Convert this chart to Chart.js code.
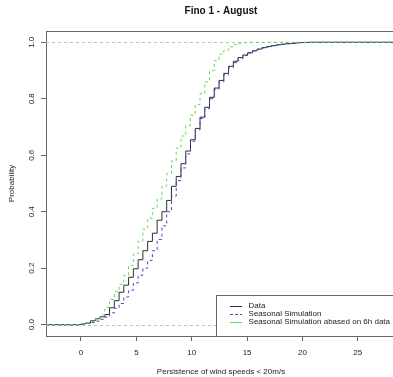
<!DOCTYPE html>
<html><head><meta charset="utf-8">
<script src="https://cdn.jsdelivr.net/npm/chart.js@4.4.0/dist/chart.umd.min.js"></script>
<style>html,body{margin:0;padding:0;background:#fff;overflow:hidden}#wrap{width:400px;height:377px}</style>
</head><body><div id="wrap"><canvas id="c" width="400" height="377"></canvas></div>
<script>
const TITLE = 'Fino 1 - August';
const X_LABEL = 'Persistence of wind speeds < 20m/s';
const Y_LABEL = 'Probability';
const X_TICKS = [0, 5, 10, 15, 20, 25];
const Y_TICKS = [0, 0.2, 0.4, 0.6, 0.8, 1.0];
const Y_TICK_LABELS = ['0.0', '0.2', '0.4', '0.6', '0.8', '1.0'];
const X_RANGE = [-3.16, 28.45];
const Y_RANGE = [-0.04, 1.04];
const PROB_BOUNDS = [0, 1];

const seriesNames = ['Data', 'Seasonal Simulation', 'Seasonal Simulation abased on 6h data'];

const persistence = [0,0.43,0.86,1.29,1.72,2.15,2.58,3.01,3.44,3.87,4.3,4.73,5.16,5.59,6.02,6.45,6.88,7.31,7.74,8.17,8.6,9.03,9.46,9.89,10.32,10.75,11.18,11.61,12.04,12.47,12.9,13.33,13.76,14.19,14.62,15.05,15.48,15.91,16.34,16.77,17.2,17.63,18.06,18.49,18.92,19.35,19.78,20.21,20.64,21.07,21.5];

const dataCDF = [0.003,0.006,0.014,0.021,0.028,0.036,0.06,0.085,0.115,0.14,0.168,0.198,0.23,0.262,0.295,0.324,0.37,0.40,0.44,0.49,0.525,0.57,0.615,0.655,0.695,0.735,0.77,0.805,0.838,0.865,0.89,0.915,0.933,0.946,0.955,0.963,0.97,0.976,0.981,0.985,0.988,0.991,0.993,0.995,0.996,0.998,0.999,0.9995,1,1,1];

const seasonalCDF = [0.002,0.004,0.008,0.013,0.019,0.027,0.042,0.058,0.075,0.098,0.122,0.148,0.175,0.2,0.228,0.262,0.302,0.35,0.40,0.455,0.51,0.555,0.605,0.65,0.69,0.73,0.765,0.8,0.833,0.86,0.885,0.91,0.928,0.942,0.953,0.962,0.969,0.975,0.98,0.984,0.988,0.991,0.993,0.995,0.997,0.998,0.999,0.9995,1,1,1];

const seasonal6hCDF = [0.003,0.006,0.012,0.02,0.035,0.062,0.09,0.117,0.143,0.175,0.21,0.25,0.295,0.338,0.377,0.412,0.445,0.49,0.535,0.58,0.625,0.668,0.705,0.742,0.78,0.818,0.86,0.9,0.935,0.958,0.972,0.984,0.992,0.997,0.999,1,1,1,1,1,1,1,1,1,1,1,1,1,1,1,1];

const FONT = "'Liberation Sans', Arial, sans-serif";
const colors = ['#2e2e2e', '#4646c8', '#5ade5a'];
const dashes = [[], [3, 3], [3, 3]];
const legendDashes = [[], [3, 2], []];

function ecdfPoints(values) {
  const pts = [{x: X_RANGE[0], y: PROB_BOUNDS[0]}];
  persistence.forEach((p, i) => pts.push({x: p, y: values[i]}));
  pts.push({x: X_RANGE[1], y: PROB_BOUNDS[1]});
  return pts;
}

const frame = {
  id: 'frame',
  beforeDatasetsDraw(chart) {
    const {ctx, chartArea: a, scales: {y}} = chart;
    ctx.save();
    ctx.strokeStyle = '#bdbdbd'; ctx.lineWidth = 1; ctx.setLineDash([3, 3]);
    PROB_BOUNDS.forEach(v => {
      const py = Math.round(y.getPixelForValue(v)) + 0.5;
      ctx.beginPath(); ctx.moveTo(a.left, py); ctx.lineTo(a.right, py); ctx.stroke();
    });
    ctx.restore();
  },
  afterDraw(chart) {
    const {ctx, chartArea: a, scales: {y}} = chart;
    ctx.save();
    // top border
    ctx.strokeStyle = '#666'; ctx.lineWidth = 1;
    ctx.beginPath(); ctx.moveTo(a.left, a.top + 0.5); ctx.lineTo(a.right, a.top + 0.5); ctx.stroke();
    // y tick labels (rotated as in R)
    ctx.fillStyle = '#222'; ctx.font = '8px ' + FONT;
    ctx.textAlign = 'center'; ctx.textBaseline = 'middle';
    Y_TICKS.forEach((v, i) => {
      ctx.save();
      ctx.translate(a.left - 14, y.getPixelForValue(v));
      ctx.rotate(-Math.PI / 2);
      ctx.fillText(Y_TICK_LABELS[i], 0, 0);
      ctx.restore();
    });
    // legend (bottom right, inset 0)
    ctx.font = '8px ' + FONT;
    const tw = Math.max(...seriesNames.map(s => ctx.measureText(s).width));
    const boxR = a.right, boxB = a.bottom;
    const boxL = boxR - 6 - tw - 6.5 - 12 - 14;
    const boxT = boxB - 41;
    ctx.fillStyle = '#fff';
    ctx.fillRect(boxL, boxT, boxR - boxL, boxB - boxT);
    ctx.strokeStyle = '#666'; ctx.setLineDash([]);
    ctx.strokeRect(Math.round(boxL) + 0.5, Math.round(boxT) + 0.5, boxR - boxL, boxB - boxT);
    const rows = [boxB - 30.5, boxB - 22.3, boxB - 14.1];
    seriesNames.forEach((s, i) => {
      const ly = Math.round(rows[i]) + 0.5;
      ctx.strokeStyle = colors[i]; ctx.lineWidth = 1; ctx.setLineDash(legendDashes[i]);
      ctx.beginPath(); ctx.moveTo(boxL + 14, ly); ctx.lineTo(boxL + 26, ly); ctx.stroke();
      ctx.setLineDash([]);
      ctx.fillStyle = '#222'; ctx.textAlign = 'left'; ctx.textBaseline = 'middle';
      ctx.fillText(s, boxL + 32.5, rows[i]);
    });
    ctx.restore();
  }
};

const values = [dataCDF, seasonalCDF, seasonal6hCDF];
new Chart(document.getElementById('c'), {
  type: 'line',
  data: {
    datasets: values.map((v, i) => ({
      label: seriesNames[i],
      data: ecdfPoints(v),
      borderColor: colors[i],
      borderWidth: 1,
      borderDash: dashes[i],
      stepped: 'before',
      pointRadius: 0,
      fill: false,
      order: 3 - i
    }))
  },
  options: {
    responsive: false,
    devicePixelRatio: 1,
    animation: false,
    layout: {padding: {left: 0, right: 4, top: 0, bottom: 0}},
    plugins: {
      legend: {display: false},
      tooltip: {enabled: false},
      title: {
        display: true, text: TITLE, fullSize: false, color: '#111',
        font: {family: FONT, size: 10, weight: 'bold'},
        padding: {top: 5, bottom: 14}
      }
    },
    scales: {
      x: {
        type: 'linear', position: 'bottom', min: X_RANGE[0], max: X_RANGE[1],
        afterBuildTicks: s => { s.ticks = X_TICKS.map(v => ({value: v})); },
        afterFit: s => { s.height = 41; },
        grid: {drawOnChartArea: false, drawTicks: true, tickLength: 5, color: '#666'},
        border: {display: true, color: '#666'},
        ticks: {autoSkip: false, maxRotation: 0, padding: 7, color: '#222', font: {family: FONT, size: 8}},
        title: {display: true, text: X_LABEL, color: '#222', font: {family: FONT, size: 8}, padding: {top: 0, bottom: 0}}
      },
      y: {
        type: 'linear', position: 'left', min: Y_RANGE[0], max: Y_RANGE[1],
        afterBuildTicks: s => { s.ticks = Y_TICKS.map(v => ({value: v})); },
        afterFit: s => { s.width = 46; },
        grid: {drawOnChartArea: false, drawTicks: true, tickLength: 5, color: '#666'},
        border: {display: true, color: '#666'},
        ticks: {display: false},
        title: {display: true, text: Y_LABEL, color: '#222', font: {family: FONT, size: 8}, padding: {top: 7, bottom: 0}}
      }
    }
  },
  plugins: [frame]
});
</script>
</body></html>
